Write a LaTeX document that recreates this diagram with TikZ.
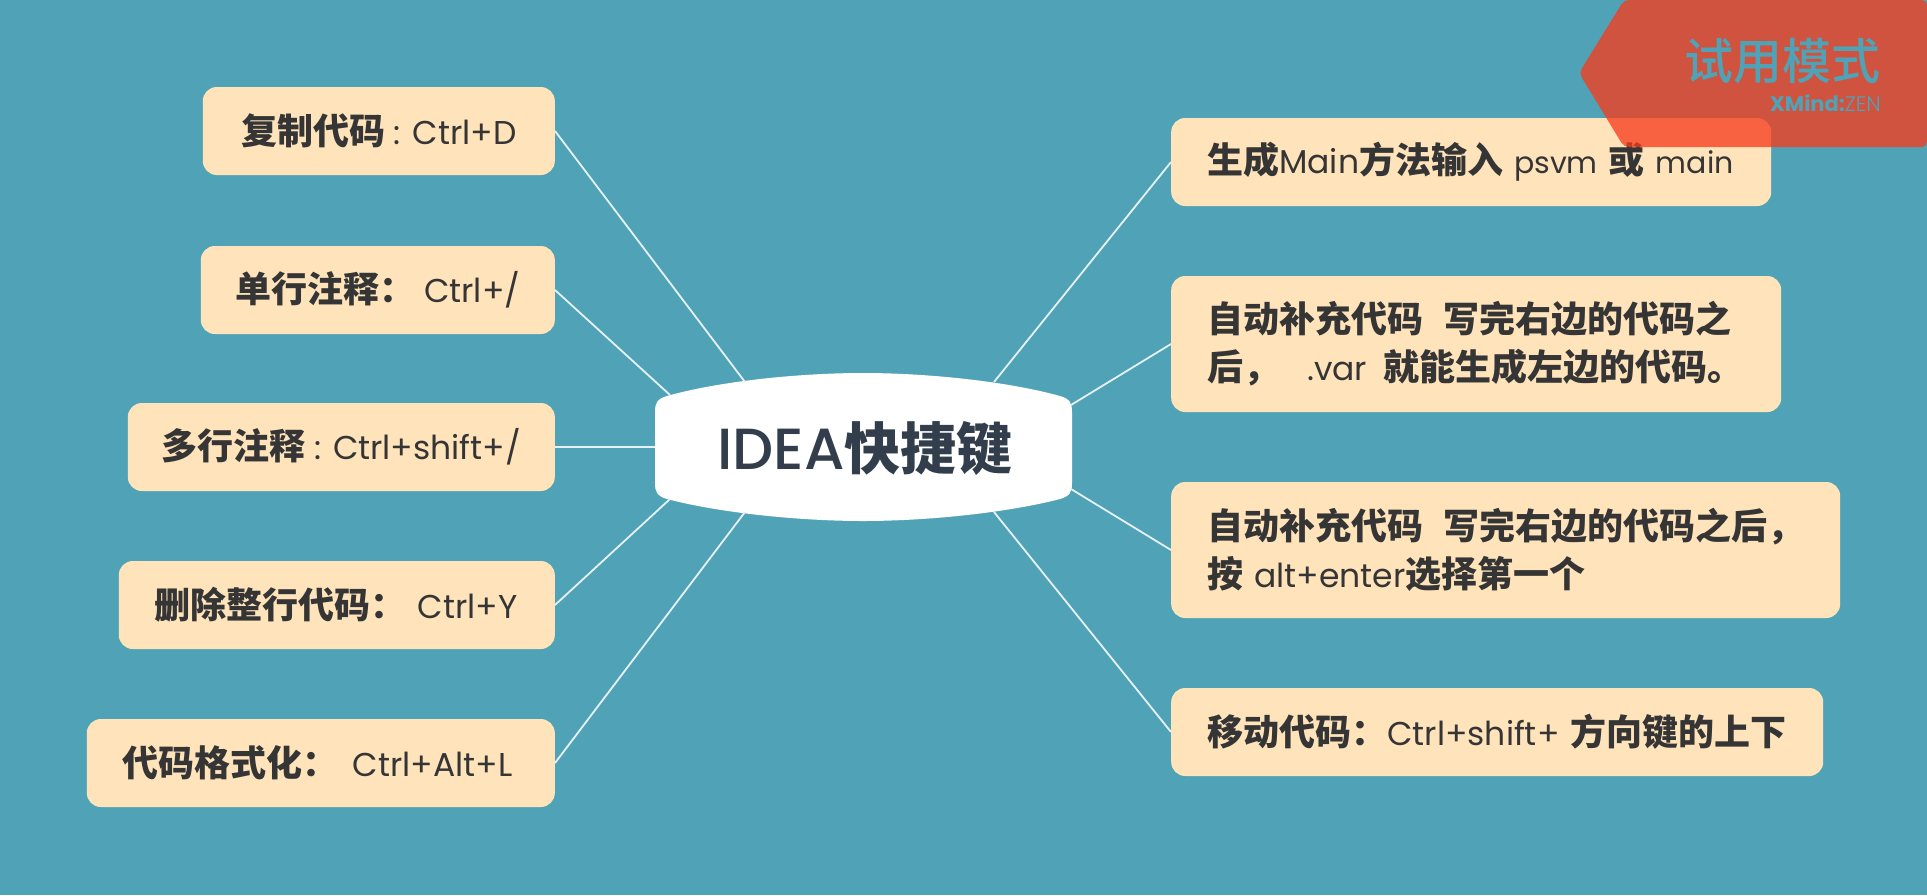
\documentclass[tikz,border=0pt]{standalone}
\usepackage{fontspec}
\setmainfont{Poppins}
\newfontfamily\cjkfont{Noto Sans CJK SC}
\newfontfamily\cjkmedium{Noto Sans CJK SC Medium}
\newfontfamily\titlefont{Poppins Medium}
\newfontfamily\thinfont{Poppins Light}
\newcommand{\zh}[1]{{\cjkfont\bfseries\fontsize{36}{48}\selectfont #1}}
\newcommand{\low}[1]{{\fontsize{30}{48}\selectfont #1}}
\definecolor{sea}{HTML}{50A3B6}
\definecolor{cream}{HTML}{FFE3BB}
\definecolor{ink}{HTML}{353535}
\definecolor{slate}{HTML}{333E4D}
\definecolor{stamp}{HTML}{F73B1B}
\tikzset{
  topic/.style={fill=cream,text=ink,rounded corners=14pt,inner xsep=36pt,inner ysep=0pt,align=left,font=\fontsize{33}{48}\selectfont},
  oneline/.style={topic,minimum height=88pt},
  twoline/.style={topic,minimum height=136pt},
  snug/.style={oneline,inner xsep=0pt},
  branch/.style={draw=white!85!sea,line width=1.8pt}
}
\begin{document}
\begin{tikzpicture}[x=1pt,y=-1pt]
\useasboundingbox (0,0) rectangle (1927,895);
\fill[sea] (0,0) rectangle (1927,895);

% central topic outline, then its label
\fill[white] (655,412) .. controls (655,403) and (657,399) .. (667,396)
  .. controls (720,381) and (800,373) .. (863,373)
  .. controls (926,373) and (1006,381) .. (1060,396)
  .. controls (1070,399) and (1072,403) .. (1072,412)
  -- (1072,483) .. controls (1072,492) and (1070,496) .. (1060,499)
  .. controls (1006,513) and (926,521) .. (863,521)
  .. controls (800,521) and (720,513) .. (667,499)
  .. controls (657,496) and (655,492) .. (655,483) -- cycle;
\node [text=slate,inner sep=0pt,font=\titlefont\fontsize{58}{60}\selectfont] (Idea) at (865,448) {IDEA{\cjkfont\bfseries\fontsize{56}{60}\selectfont 快捷键}};

\coordinate (IdeaA) at (745,382);
\coordinate (IdeaB) at (670,395);
\coordinate (IdeaC) at (655,447);
\coordinate (IdeaD) at (670,499);
\coordinate (IdeaE) at (745,512);
\coordinate (IdeaF) at (994,382);
\coordinate (IdeaG) at (1071,405);
\coordinate (IdeaH) at (1071,489);
\coordinate (IdeaI) at (994,512);

% left side
\node [snug,anchor=east,minimum width=352pt] (Copy) at (555,131) {\zh{复制代码} : Ctrl+D};
\node [snug,anchor=east,minimum width=354pt] (Single) at (555,290) {\zh{单行注释：} Ctrl+/};
\node [snug,anchor=east,minimum width=427pt] (Multi) at (555,447) {\zh{多行注释} : Ctrl+shift+/};
\node [oneline,anchor=east,text width=364pt] (Delete) at (555,605) {\zh{删除整行代码：} Ctrl+Y};
\node [oneline,anchor=east,text width=396pt] (Format) at (555,763) {\zh{代码格式化：}\hspace{14pt}Ctrl+Alt+L};

% right side
\node [oneline,anchor=west,text width=528pt] (Main) at (1171,162) {\zh{生成}Main\zh{方法输入} \low{psvm} \zh{或} \low{main}};
\node [twoline,anchor=west,text width=538pt] (Var) at (1171,344) {\zh{自动补充代码\hspace{20pt}写完右边的代码之}\\\zh{后，}\hspace{28pt}.var\hspace{16pt}\zh{就能生成左边的代码。}};
\node [twoline,anchor=west,text width=597pt] (Enter) at (1171,550) {\zh{自动补充代码\hspace{20pt}写完右边的代码之后，}\\\zh{按} alt+enter\zh{选择第一个}};
\node [oneline,anchor=west,text width=580pt] (Move) at (1171,732) {\zh{移动代码：}Ctrl+shift+ \zh{方向键的上下}};

\draw [branch] (Copy.east) -- (IdeaA);
\draw [branch] (Single.east) -- (IdeaB);
\draw [branch] (Multi.east) -- (IdeaC);
\draw [branch] (Delete.east) -- (IdeaD);
\draw [branch] (Format.east) -- (IdeaE);
\draw [branch] (Main.west) -- (IdeaF);
\draw [branch] (Var.west) -- (IdeaG);
\draw [branch] (Enter.west) -- (IdeaH);
\draw [branch] (Move.west) -- (IdeaI);

% trial mode stamp
\fill [stamp,fill opacity=.766,rounded corners=5pt] (1579,73) -- (1624,0) -- (1927,0) -- (1927,147) -- (1624,147) -- cycle;
\node [text=sea,inner sep=0pt,anchor=east,font=\cjkmedium\fontsize{49}{50}\selectfont] (Trial) at (1881,61) {试用模式};
\node [text=sea,inner sep=0pt,anchor=east,font=\fontsize{21}{24}\selectfont] (Brand) at (1881,103) {\textbf{XMind:}{\thinfont ZEN}};
\end{tikzpicture}
\end{document}
